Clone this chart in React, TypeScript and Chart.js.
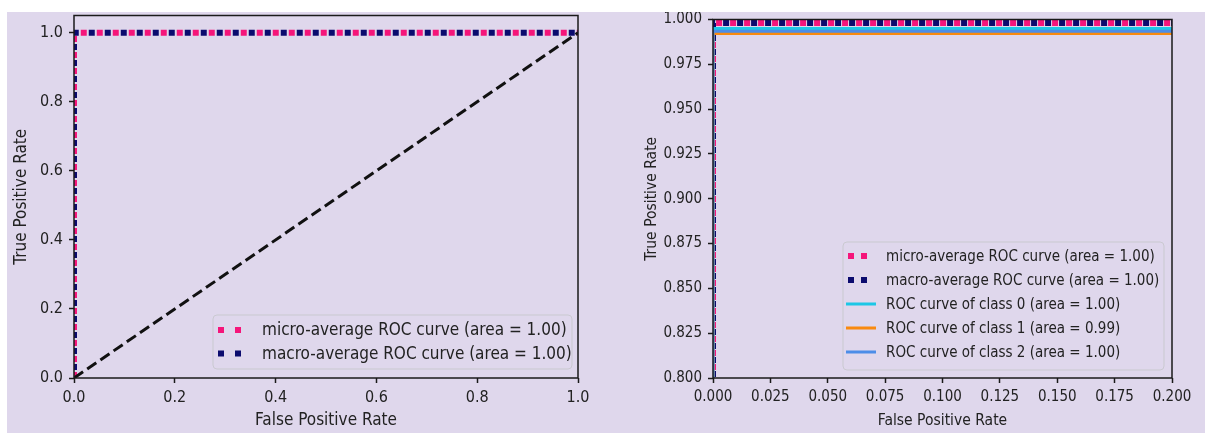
import React, { useEffect, useRef } from 'react';
import { Chart, registerables } from 'chart.js';

Chart.register(...registerables);

// ---------- Data: left panel (full ROC) ----------
const avgFpr = [0, 0, 1];
const microTpr = [0, 1, 1];
const macroTpr = [0, 1, 1];
const chanceFpr = [0, 1];
const chanceTpr = [0, 1];
const leftTicksX = [0, 0.2, 0.4, 0.6, 0.8, 1.0];
const leftTicksY = [0, 0.2, 0.4, 0.6, 0.8, 1.0];

// ---------- Data: right panel (zoomed ROC) ----------
const zoomFpr = [0, 0, 0.2];
const zoomMicroTpr = [0, 0.998, 0.998];
const zoomMacroTpr = [0, 0.998, 0.998];
const class0Tpr = [0, 0.995, 0.995];
const class1Tpr = [0, 0.9922, 0.9922];
const class2Tpr = [0, 0.9935, 0.9935];
const rightTicksX = [0, 0.025, 0.05, 0.075, 0.1, 0.125, 0.15, 0.175, 0.2];
const rightTicksY = [0.8, 0.825, 0.85, 0.875, 0.9, 0.925, 0.95, 0.975, 1.0];

// ---------- Labels ----------
const aucMicro = '1.00';
const aucMacro = '1.00';
const aucClasses = ['1.00', '0.99', '1.00'];
const microLabel = `micro-average ROC curve (area = ${aucMicro})`;
const macroLabel = `macro-average ROC curve (area = ${aucMacro})`;
const classLabels = aucClasses.map((a, i) => `ROC curve of class ${i} (area = ${a})`);
const xTitle = 'False Positive Rate';
const yTitle = 'True Positive Rate';

// ---------- Styles ----------
const FONT = "'DejaVu Sans Condensed', 'DejaVu Sans', sans-serif";
const TEXT = '#222222';
const BG = '#dfd7ec';
const PINK = '#f5157a';
const NAVY = '#0b0b6e';
const CYAN = '#1cc7e6';
const ORANGE = '#f98a0f';
const BLUE = '#4c8de8';
const SPINE = '#1a1a1a';

function pts(xs: number[], ys: number[]) {
  return xs.map((x, i) => ({ x, y: ys[i] }));
}

const framePlugin = {
  id: 'frame',
  afterDatasetsDraw(chart: any) {
    const { ctx, chartArea: a } = chart;
    ctx.save();
    ctx.strokeStyle = SPINE;
    ctx.lineWidth = 1.5;
    ctx.strokeRect(a.left, a.top, a.right - a.left, a.bottom - a.top);
    ctx.restore();
  },
};

const legendPlugin = {
  id: 'boxLegend',
  afterDraw(chart: any, _args: any, o: any) {
    const { ctx, chartArea: a } = chart;
    const right = a.right - o.right;
    const bottom = a.bottom - o.bottom;
    const left = right - o.width;
    const top = bottom - o.height;
    ctx.save();
    ctx.beginPath();
    const r = 4;
    ctx.moveTo(left + r, top);
    ctx.lineTo(right - r, top);
    ctx.quadraticCurveTo(right, top, right, top + r);
    ctx.lineTo(right, bottom - r);
    ctx.quadraticCurveTo(right, bottom, right - r, bottom);
    ctx.lineTo(left + r, bottom);
    ctx.quadraticCurveTo(left, bottom, left, bottom - r);
    ctx.lineTo(left, top + r);
    ctx.quadraticCurveTo(left, top, left + r, top);
    ctx.closePath();
    ctx.fillStyle = BG;
    ctx.fill();
    ctx.strokeStyle = 'rgba(200,200,205,0.9)';
    ctx.lineWidth = 1;
    ctx.stroke();
    ctx.clip();

    ctx.font = `${o.fontSize}px ${FONT}`;
    ctx.textBaseline = 'middle';
    ctx.textAlign = 'left';
    let idx = 0;
    chart.data.datasets.forEach((ds: any) => {
      if (!ds.label) return;
      const y = top + o.firstRow + idx * o.rowGap;
      if (ds.borderDash && ds.borderDash.length) {
        ctx.fillStyle = ds.borderColor;
        const s = 6;
        ctx.fillRect(left + o.dot1, y - s / 2, s, s);
        ctx.fillRect(left + o.dot2, y - s / 2, s, s);
      } else {
        ctx.strokeStyle = ds.borderColor;
        ctx.lineWidth = 3;
        ctx.beginPath();
        ctx.moveTo(left + o.lineX0, y);
        ctx.lineTo(left + o.lineX1, y);
        ctx.stroke();
      }
      ctx.fillStyle = TEXT;
      ctx.fillText(ds.label, left + o.textX, y + 1);
      idx++;
    });
    ctx.restore();
  },
};

function axis(
  ticks: number[],
  min: number,
  max: number,
  digits: number,
  title: string,
  vertical: boolean,
  size: number,
  titlePad: number,
  tickFont: number,
  titleFont: number,
) {
  return {
    type: 'linear',
    min,
    max,
    afterBuildTicks: (s: any) => {
      s.ticks = ticks.map((value) => ({ value }));
    },
    afterFit: (s: any) => {
      if (vertical) s.width = size;
      else s.height = size;
      s.paddingLeft = 0;
      s.paddingRight = 0;
      s.paddingTop = 0;
      s.paddingBottom = 0;
    },
    grid: {
      display: true,
      drawOnChartArea: false,
      drawTicks: true,
      tickLength: 5,
      tickWidth: 1.5,
      tickColor: SPINE,
      color: SPINE,
    },
    border: { display: false },
    ticks: {
      padding: vertical ? 6 : 5,
      color: TEXT,
      autoSkip: false,
      maxRotation: 0,
      font: { family: FONT, size: tickFont },
      callback: (v: any) => Number(v).toFixed(digits),
    },
    title: {
      display: true,
      text: title,
      color: TEXT,
      font: { family: FONT, size: titleFont },
      padding: vertical ? { top: titlePad, bottom: 0 } : { top: 0, bottom: titlePad },
    },
  };
}

function lineDs(label: string | undefined, data: any[], color: string, width: number, dash: number[], offset: number, order: number) {
  return {
    label,
    data,
    showLine: true,
    borderColor: color,
    backgroundColor: color,
    borderWidth: width,
    borderDash: dash,
    borderDashOffset: offset,
    borderCapStyle: 'butt',
    pointRadius: 0,
    pointHoverRadius: 0,
    tension: 0,
    clip: 0,
    order,
  };
}

const leftConfig: any = {
  type: 'scatter',
  data: {
    datasets: [
      lineDs(microLabel, pts(avgFpr, microTpr), PINK, 6, [6, 10], 0, 3),
      lineDs(macroLabel, pts(avgFpr, macroTpr), NAVY, 6, [6, 10], 8, 2),
      lineDs(undefined, pts(chanceFpr, chanceTpr), '#111111', 3, [11, 5], 0, 1),
    ],
  },
  options: {
    responsive: false,
    animation: false,
    events: [],
    layout: { padding: { left: 0, right: 22, top: 3.5, bottom: 0 } },
    scales: {
      x: axis(leftTicksX, 0, 1, 1, xTitle, false, 55, 2, 16, 17),
      y: axis(leftTicksY, 0, 1.05, 1, yTitle, true, 67, 4, 16, 17),
    },
    plugins: {
      legend: { display: false },
      tooltip: { enabled: false },
      boxLegend: {
        right: 6,
        bottom: 9,
        width: 359,
        height: 54,
        firstRow: 15,
        rowGap: 23.5,
        dot1: 5,
        dot2: 22,
        lineX0: 3,
        lineX1: 33,
        textX: 49,
        fontSize: 17,
      },
    },
  },
  plugins: [framePlugin, legendPlugin],
};

const rightConfig: any = {
  type: 'scatter',
  data: {
    datasets: [
      lineDs(microLabel, pts(zoomFpr, zoomMicroTpr), PINK, 6, [6, 8], 0, 5),
      lineDs(macroLabel, pts(zoomFpr, zoomMacroTpr), NAVY, 6, [6, 8], 7, 4),
      lineDs(classLabels[0], pts(zoomFpr, class0Tpr), CYAN, 3, [], 0, 3),
      lineDs(classLabels[1], pts(zoomFpr, class1Tpr), ORANGE, 3, [], 0, 2),
      lineDs(classLabels[2], pts(zoomFpr, class2Tpr), BLUE, 3, [], 0, 1),
    ],
  },
  options: {
    responsive: false,
    animation: false,
    events: [],
    layout: { padding: { left: 0, right: 33, top: 7.5, bottom: 0 } },
    scales: {
      x: axis(rightTicksX, 0, 0.2, 3, xTitle, false, 55, 3, 15, 15.5),
      y: axis(rightTicksY, 0.8, 1.0, 3, yTitle, true, 113, 43, 15, 15.5),
    },
    plugins: {
      legend: { display: false },
      tooltip: { enabled: false },
      boxLegend: {
        right: 8,
        bottom: 8,
        width: 321,
        height: 128,
        firstRow: 14,
        rowGap: 24,
        dot1: 5,
        dot2: 18,
        lineX0: 3,
        lineX1: 33,
        textX: 43,
        fontSize: 15,
      },
    },
  },
  plugins: [framePlugin, legendPlugin],
};

function RocCanvas({ config, left, top, width, height }: any) {
  const ref = useRef<HTMLCanvasElement>(null);
  useEffect(() => {
    const chart = new Chart(ref.current as HTMLCanvasElement, config);
    return () => chart.destroy();
  }, [config]);
  return (
    <canvas
      ref={ref}
      width={width}
      height={height}
      style={{ position: 'absolute', left, top, width, height, display: 'block' }}
    />
  );
}

export default function App() {
  return (
    <div style={{ position: 'absolute', left: 0, top: 0, width: 1205, height: 433, background: '#ffffff', overflow: 'hidden' }}>
      <div style={{ position: 'absolute', left: 7, top: 12, width: 1198, height: 421, background: BG }} />
      <RocCanvas config={leftConfig} left={7} top={12} width={593} height={421} />
      <RocCanvas config={rightConfig} left={600} top={12} width={605} height={421} />
    </div>
  );
}
